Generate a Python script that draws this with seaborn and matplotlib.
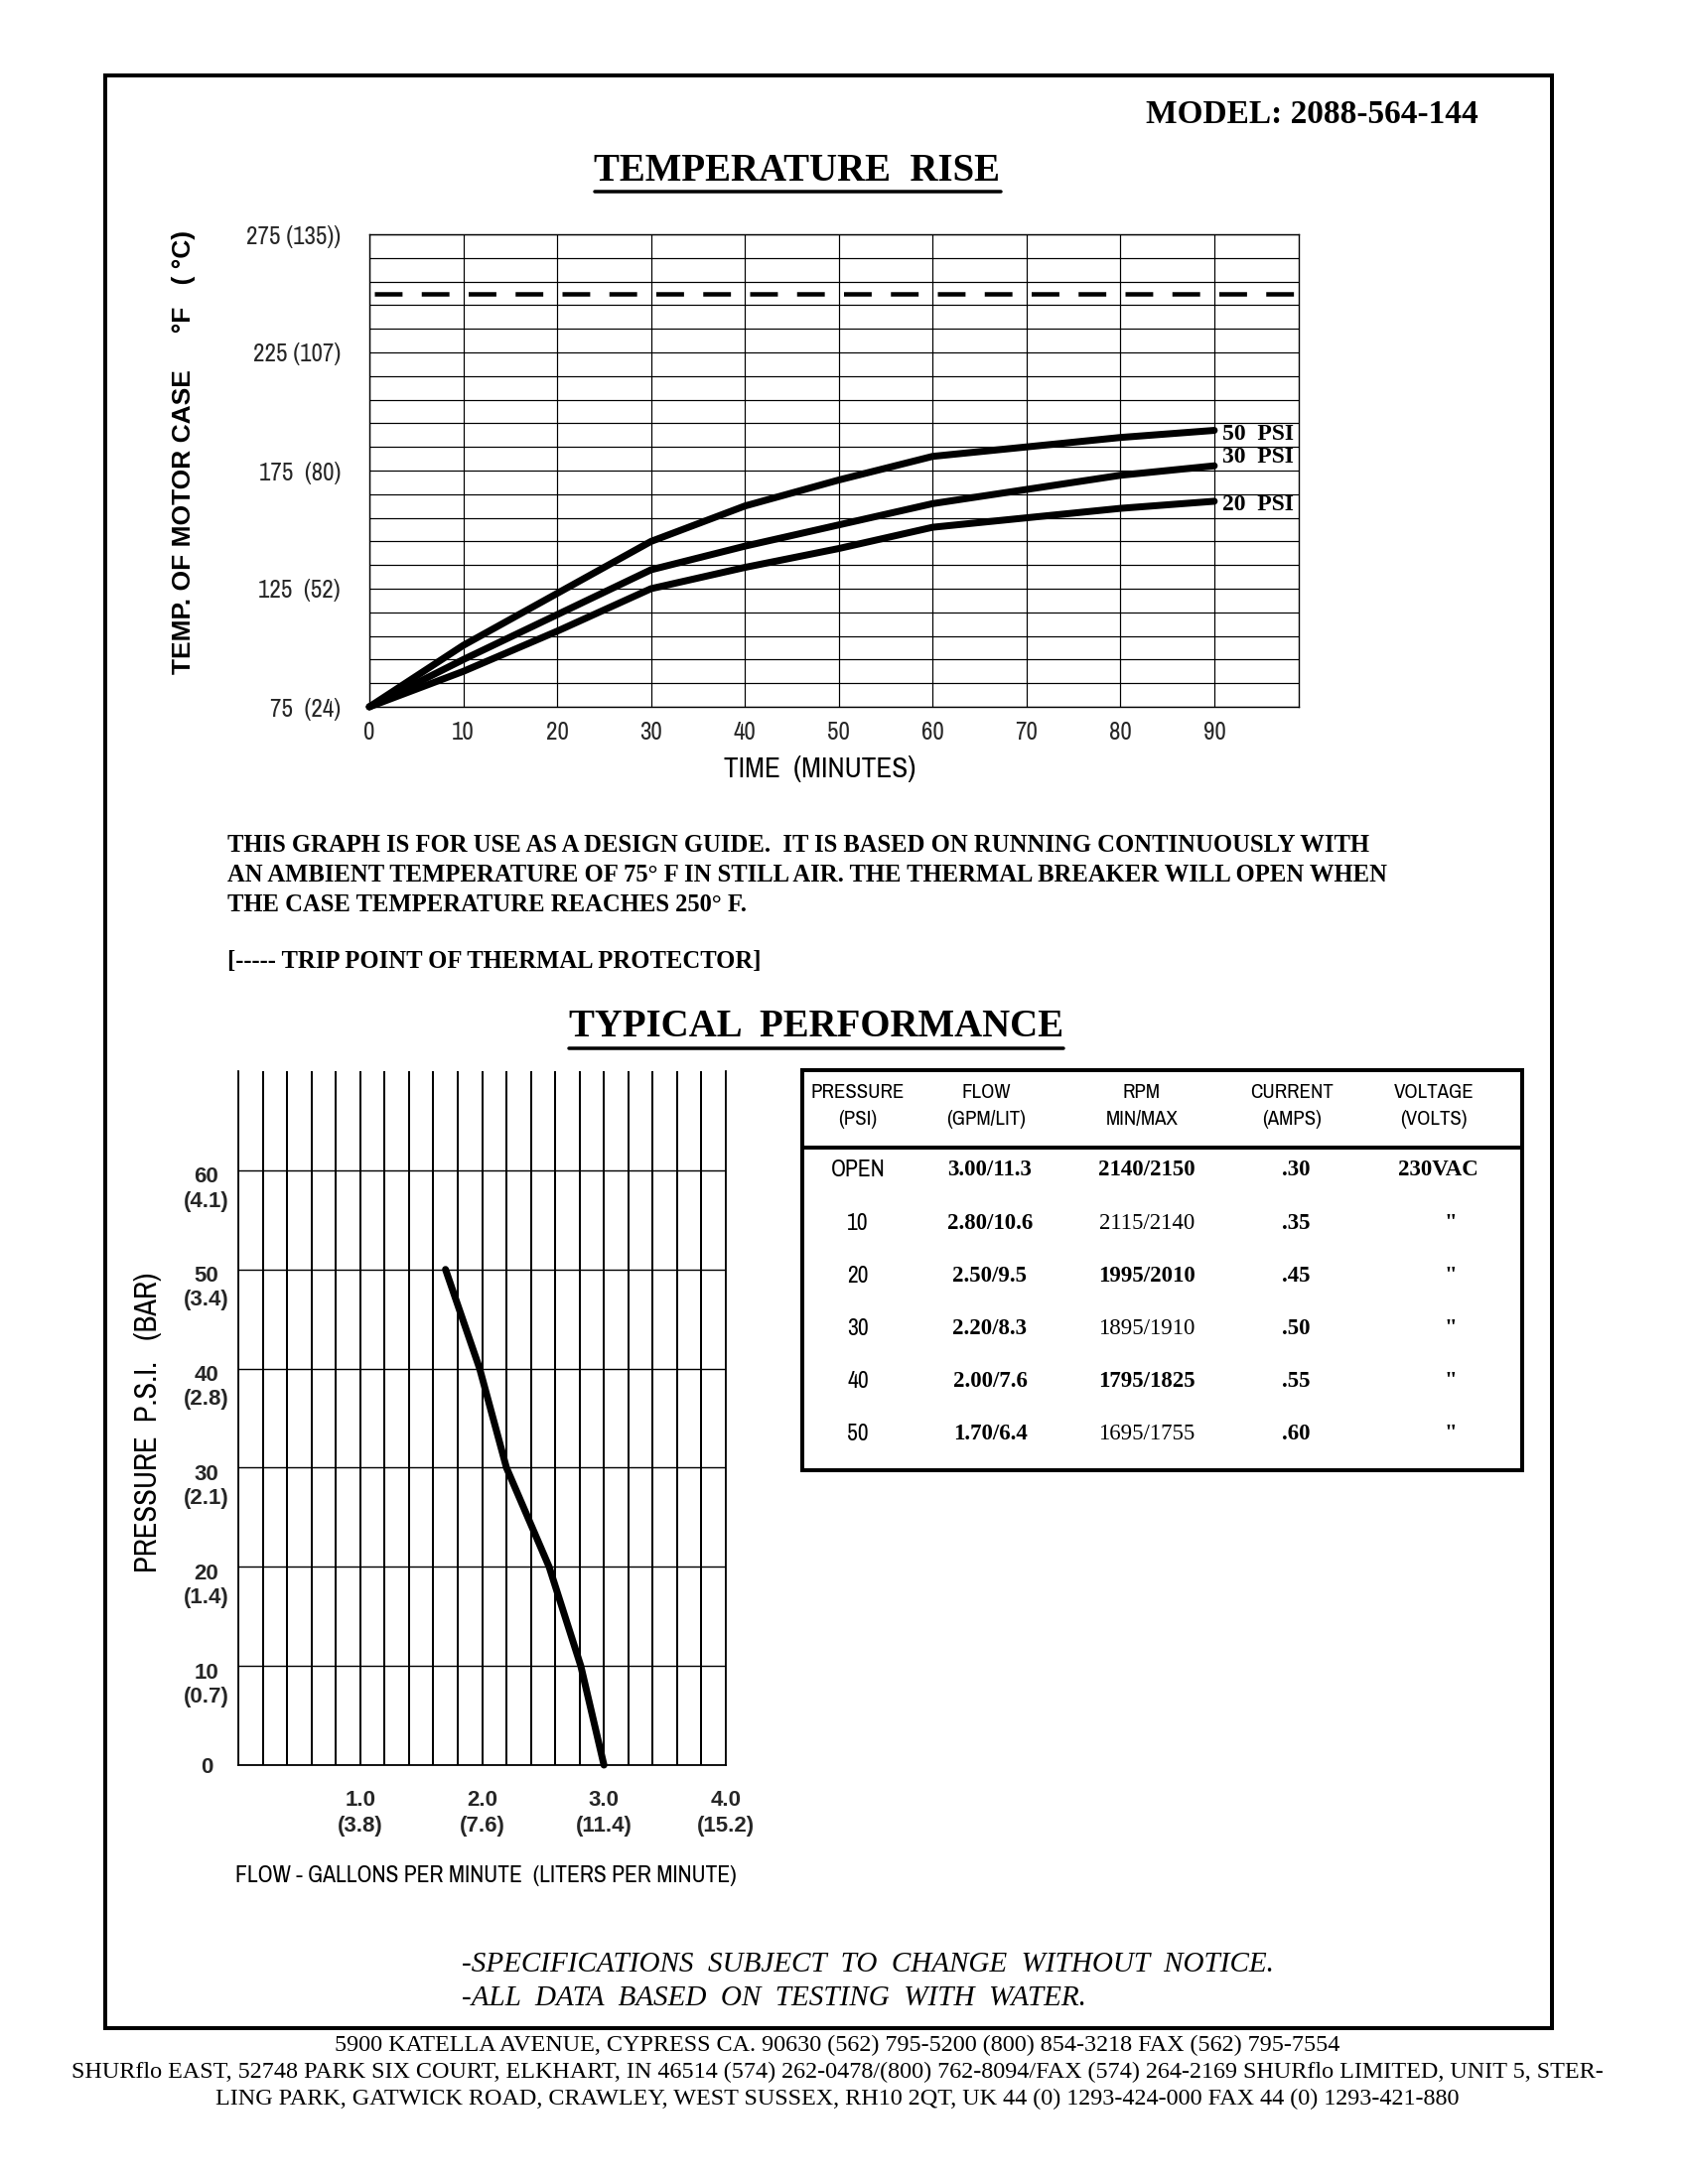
import matplotlib
matplotlib.use("Agg")
import matplotlib.pyplot as plt
import seaborn as sns
import pandas as pd
from matplotlib.transforms import ScaledTranslation
from matplotlib.lines import Line2D
from matplotlib.patches import Rectangle
from matplotlib.ticker import MultipleLocator, FixedLocator

# ---------------- data ----------------
time_min = [0, 10, 20, 30, 40, 50, 60, 70, 80, 90]
temp_50psi = [75, 101, 123, 145, 160, 171, 181, 185, 189, 192]
temp_30psi = [75, 95, 114, 133, 143, 152, 161, 167, 173, 177]
temp_20psi = [75, 90, 107, 125, 134, 142, 151, 155, 159, 162]
series_labels = ["50  PSI", "30  PSI", "20  PSI"]
series_label_y = [190.5, 180.5, 160.5]
trip_point_f = 250
temp_ticks = [75, 125, 175, 225, 275]
temp_grid = [75, 85, 95, 105, 115, 125, 135, 145, 155, 165, 175, 185, 195, 205, 215, 225,
             235, 245, 255, 265, 275]
temp_tick_labels = ["75  (24)", "125  (52)", "175  (80)", "225 (107)", "275 (135))"]
time_ticks = [0, 10, 20, 30, 40, 50, 60, 70, 80, 90]

perf_psi = [0, 10, 20, 30, 40, 50]
perf_flow = [3.00, 2.81, 2.55, 2.20, 1.98, 1.70]
psi_ticks = [0, 10, 20, 30, 40, 50, 60]
psi_tick_labels = ["0", "10\n(0.7)", "20\n(1.4)", "30\n(2.1)", "40\n(2.8)", "50\n(3.4)", "60\n(4.1)"]
flow_ticks = [1.0, 2.0, 3.0, 4.0]
flow_tick_labels = ["1.0\n(3.8)", "2.0\n(7.6)", "3.0\n(11.4)", "4.0\n(15.2)"]

tbl_header1 = ["PRESSURE", "FLOW", "RPM", "CURRENT", "VOLTAGE"]
tbl_header2 = ["(PSI)", "(GPM/LIT)", "MIN/MAX", "(AMPS)", "(VOLTS)"]
tbl_pressure = ["OPEN", "10", "20", "30", "40", "50"]
tbl_flow = ["3.00/11.3", "2.80/10.6", "2.50/9.5", "2.20/8.3", "2.00/7.6", "1.70/6.4"]
tbl_rpm = ["2140/2150", "2115/2140", "1995/2010", "1895/1910", "1795/1825", "1695/1755"]
tbl_current = [".30", ".35", ".45", ".50", ".55", ".60"]
tbl_voltage = ["230VAC", '"', '"', '"', '"', '"']

# ---------------- style ----------------
sns.set_style("white")
SANS_N = ['Archivo Narrow', 'Roboto Condensed', 'Liberation Sans', 'DejaVu Sans']
SANS = ['Liberation Sans', 'DejaVu Sans']
SERIF = ['Liberation Serif', 'DejaVu Serif']
plt.rcParams['font.family'] = SANS
plt.rcParams['text.color'] = 'black'

W, H = 1700, 2200
def fx(p):
    return p / W
def fy(p):
    return 1 - p / H
def PX(p):  # pixels -> points at dpi 100
    return p * 0.72

fig = plt.figure(figsize=(17, 22), dpi=100)
fig.patch.set_facecolor('white')

# outer border
fig.patches.append(Rectangle((fx(106), fy(2043)), fx(1563) - fx(106), fy(76) - fy(2043),
                             transform=fig.transFigure, fill=False, lw=PX(4), ec='black'))

fig.text(fx(1489), fy(115), "MODEL: 2088-564-144", ha='right', va='center',
         family=SERIF, weight='bold', fontsize=24)
title1 = fig.text(fx(803), fy(172), "TEMPERATURE  RISE", ha='center', va='center',
                  family=SERIF, weight='bold', fontsize=28)

# ---------------- temperature rise chart ----------------
ax1 = fig.add_axes([fx(372), fy(712), fx(1308) - fx(372), fy(236) - fy(712)])
ax1.set_xlim(0, 99)
ax1.set_ylim(75, 275)
df = pd.DataFrame({"time": time_min * 3,
                   "temp": temp_50psi + temp_30psi + temp_20psi,
                   "psi": [series_labels[0]] * 10 + [series_labels[1]] * 10 + [series_labels[2]] * 10})
ax1.set_yticks(temp_ticks)
ax1.yaxis.set_minor_locator(FixedLocator(temp_grid))
ax1.set_xticks(time_ticks)
ax1.grid(which='both', color='black', lw=PX(1.2))
ax1.set_axisbelow(True)
sns.lineplot(data=df, x="time", y="temp", hue="psi", palette=['black'] * 3,
             lw=PX(7), ax=ax1, legend=False, clip_on=False)
ax1.plot([0.5, 100], [trip_point_f, trip_point_f], color='black', lw=PX(4.5),
         ls=(0, (6.2, 4.3)), clip_on=False)
for lab, yv in zip(series_labels, series_label_y):
    ax1.text(90.9, yv, lab, ha='left', va='center', family=SERIF, weight='bold', fontsize=17)
ax1.set_yticklabels(temp_tick_labels, family=SANS_N, fontsize=18)
ax1.set_xticklabels([str(t) for t in time_ticks], family=SANS_N, fontsize=18)
ax1.tick_params(axis='y', which='major', length=PX(9), width=PX(1.2), pad=PX(20), color='black')
ax1.tick_params(axis='y', which='minor', length=0)
ax1.tick_params(axis='x', length=0, pad=PX(14))
for s in ax1.spines.values():
    s.set_color('black'); s.set_linewidth(PX(1.4))
ax1.set_xlabel(""); ax1.set_ylabel("")
fig.text(fx(826), fy(774), "TIME  (MINUTES)", ha='center', va='center',
         family=SANS_N, fontsize=21)
fig.text(fx(185), fy(455), "TEMP. OF MOTOR CASE     \u00b0F   ( \u00b0C)", rotation=90,
         ha='center', va='center', family=SANS, weight='bold', fontsize=19)

# ---------------- notes ----------------
note_lines = ["THIS GRAPH IS FOR USE AS A DESIGN GUIDE.  IT IS BASED ON RUNNING CONTINUOUSLY WITH",
              "AN AMBIENT TEMPERATURE OF 75\u00b0 F IN STILL AIR. THE THERMAL BREAKER WILL OPEN WHEN",
              "THE CASE TEMPERATURE REACHES 250\u00b0 F."]
for ln, yy in zip(note_lines, [851, 882, 912]):
    fig.text(fx(229), fy(yy), ln, ha='left', va='center', family=SERIF, weight='bold', fontsize=17.7)
fig.text(fx(229), fy(969), "[----- TRIP POINT OF THERMAL PROTECTOR]", ha='left', va='center',
         family=SERIF, weight='bold', fontsize=17.7)
title2 = fig.text(fx(822), fy(1035), "TYPICAL  PERFORMANCE", ha='center', va='center',
                  family=SERIF, weight='bold', fontsize=28)

# ---------------- performance chart ----------------
ax2 = fig.add_axes([fx(240), fy(1778), fx(731) - fx(240), fy(1079) - fy(1778)])
ax2.set_xlim(0, 4)
ax2.set_ylim(0, 70)
ax2.set_xticks(flow_ticks)
ax2.xaxis.set_minor_locator(MultipleLocator(0.2))
ax2.set_yticks(psi_ticks)
ax2.grid(axis='x', which='both', color='black', lw=PX(2))
ax2.grid(axis='y', which='major', color='black', lw=PX(1.4))
ax2.set_axisbelow(True)
sns.lineplot(x=perf_flow, y=perf_psi, sort=False, color='black', lw=PX(7), ax=ax2,
             clip_on=False)
ax2.spines['top'].set_visible(False)
for s in ['left', 'bottom', 'right']:
    ax2.spines[s].set_color('black'); ax2.spines[s].set_linewidth(PX(1.8))
ax2.set_yticklabels(psi_tick_labels, family=SANS, weight='bold', fontsize=16,
                    ha='center', linespacing=1.2)
ax2.set_xticklabels(flow_tick_labels, family=SANS, weight='bold', fontsize=16, linespacing=1.3)
ax2.tick_params(axis='y', length=0, pad=PX(32))
ax2.tick_params(axis='x', which='major', length=PX(6), width=PX(2), pad=PX(19), color='black')
ax2.tick_params(axis='x', which='minor', length=0)
for lab in ax2.get_yticklabels():
    if "\n" in lab.get_text():
        lab.set_transform(lab.get_transform() + ScaledTranslation(0, -0.15, fig.dpi_scale_trans))
ax2.set_xlabel(""); ax2.set_ylabel("")
fig.text(fx(149), fy(1433), "PRESSURE  P.S.I.   (BAR)", rotation=90, ha='center', va='center',
         family=SANS_N, fontsize=22)
fig.text(fx(489), fy(1890), "FLOW - GALLONS PER MINUTE  (LITERS PER MINUTE)", ha='center',
         va='center', family=SANS_N, fontsize=17)

# ---------------- table ----------------
ax3 = fig.add_axes([fx(808), fy(1481), fx(1533) - fx(808), fy(1078) - fy(1481)])
ax3.set_xlim(808, 1533)
ax3.set_ylim(5.677, -1.898)
ax3.set_xticks([]); ax3.set_yticks([])
for s in ax3.spines.values():
    s.set_visible(True); s.set_color('black'); s.set_linewidth(PX(4))
ax3.axhline(-0.432, color='black', lw=PX(4))
head_x = [864, 993, 1150, 1301, 1444]
for hx, h1, h2 in zip(head_x, tbl_header1, tbl_header2):
    ax3.text(hx, -1.466, h1, ha='center', va='center', family=SANS_N, fontsize=15)
    ax3.text(hx, -0.959, h2, ha='center', va='center', family=SANS_N, fontsize=15)
rpm_w = ['bold', 'normal', 'bold', 'normal', 'bold', 'normal']
for i in range(len(tbl_pressure)):
    ax3.text(864, i, tbl_pressure[i], ha='center', va='center', family=SANS_N, fontsize=17)
    ax3.text(997, i, tbl_flow[i], ha='center', va='center', family=SERIF, weight='bold', fontsize=16.5)
    ax3.text(1155, i, tbl_rpm[i], ha='center', va='center', family=SERIF, weight=rpm_w[i], fontsize=16.5)
    ax3.text(1305, i, tbl_current[i], ha='center', va='center', family=SERIF, weight='bold', fontsize=16.5)
    vx = 1448 if i == 0 else 1461
    ax3.text(vx, i, tbl_voltage[i], ha='center', va='center', family=SERIF, weight='bold', fontsize=16.5)

# ---------------- footer ----------------
fig.text(fx(465), fy(1979), "-SPECIFICATIONS  SUBJECT  TO  CHANGE  WITHOUT  NOTICE.", ha='left',
         va='center', family=SERIF, style='italic', fontsize=21)
fig.text(fx(465), fy(2013), "-ALL  DATA  BASED  ON  TESTING  WITH  WATER.", ha='left',
         va='center', family=SERIF, style='italic', fontsize=21)
addr = ["5900 KATELLA AVENUE, CYPRESS CA. 90630 (562) 795-5200 (800) 854-3218 FAX (562) 795-7554",
        "SHURflo EAST, 52748 PARK SIX COURT, ELKHART, IN 46514 (574) 262-0478/(800) 762-8094/FAX (574) 264-2169 SHURflo LIMITED, UNIT 5, STER-",
        "LING PARK, GATWICK ROAD, CRAWLEY, WEST SUSSEX, RH10 2QT, UK 44 (0) 1293-424-000 FAX 44 (0) 1293-421-880"]
for ln, yy in zip(addr, [2060, 2087, 2114]):
    fig.text(fx(843), fy(yy), ln, ha='center', va='center', family=SERIF, fontsize=17.4)

# underlines for titles
fig.canvas.draw()
r = fig.canvas.get_renderer()
for t in (title1, title2):
    bb = t.get_window_extent(r)
    yl = (bb.y0 - 2) / H
    fig.add_artist(Line2D([bb.x0 / W, bb.x1 / W], [yl, yl], transform=fig.transFigure,
                          color='black', lw=PX(3.5)))

fig.savefig("out.png", dpi=100, facecolor='white')
